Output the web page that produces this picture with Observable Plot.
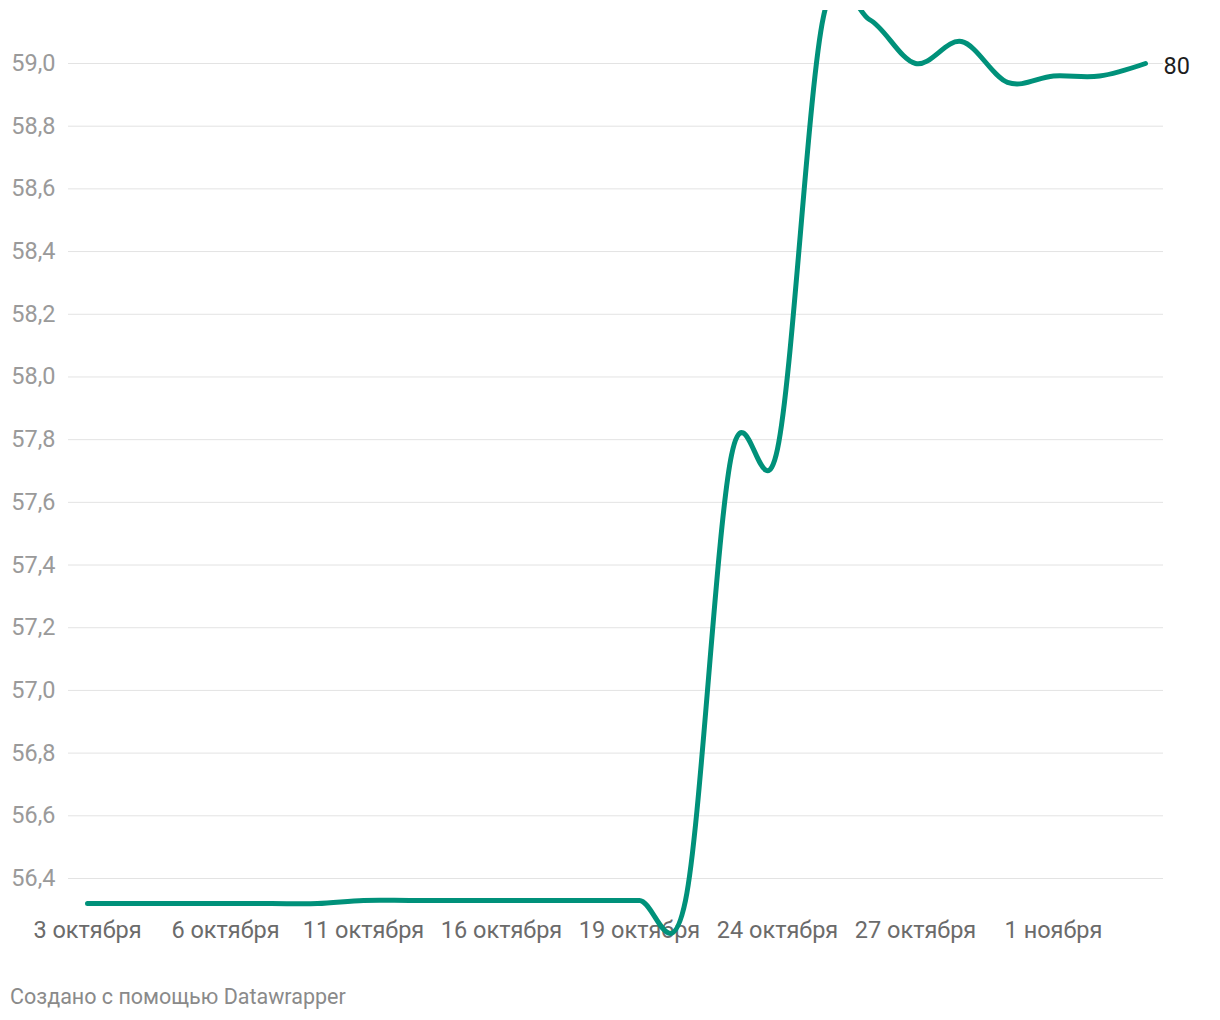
<!DOCTYPE html>
<html>
<head>
<meta charset="utf-8">
<script src="https://cdn.jsdelivr.net/npm/d3@7"></script>
<script src="https://cdn.jsdelivr.net/npm/@observablehq/plot@0.6"></script>
<style>
  html, body { margin: 0; padding: 0; background: #fff; }
  body { font-family: Roboto, "Noto Sans", sans-serif; width: 1220px; }
  #chart svg { display: block; }
  .caption { font-size: 21.5px; color: #8a8a8a; margin: 24px 0 0 10px; line-height: 25px; }
</style>
</head>
<body>
<div id="chart"></div>
<div class="caption">Создано с помощью Datawrapper</div>
<script>
// Categories (trading dates, evenly spaced on the axis)
const dates = [
  "3 октября", "4 октября", "5 октября", "6 октября", "7 октября", "10 октября",
  "11 октября", "12 октября", "13 октября", "16 октября", "17 октября", "18 октября",
  "19 октября", "20 октября", "21 октября", "24 октября", "25 октября", "26 октября",
  "27 октября", "28 октября", "31 октября", "1 ноября", "2 ноября", "3 ноября"
];
// Series values
const values = [
  56.32, 56.32, 56.32, 56.32, 56.32, 56.32,
  56.33, 56.33, 56.33, 56.33, 56.33, 56.33,
  56.33, 56.33, 57.75, 57.77, 59.15, 59.14,
  59.00, 59.07, 58.94, 58.96, 58.96, 59.00
];
// Axis tick labels
const xTickLabels = ["3 октября", "6 октября", "11 октября", "16 октября", "19 октября", "24 октября", "27 октября", "1 ноября"];
const yTicks = [56.4, 56.6, 56.8, 57.0, 57.2, 57.4, 57.6, 57.8, 58.0, 58.2, 58.4, 58.6, 58.8, 59.0];
const yDomain = [56.1862, 59.1691];
const seriesLabel = "80";

const data = dates.map((d, i) => ({date: d, value: values[i]}));
const lineColor = "#00917a";
const fmt = v => v.toFixed(1).replace(".", ",");

const chart = Plot.plot({
  width: 1220,
  height: 960,
  marginTop: 10,
  marginBottom: 15,
  marginLeft: 68,
  marginRight: 57,
  style: {fontFamily: "Roboto, sans-serif", fontSize: "23.5px", background: "#fff"},
  x: {type: "point", domain: dates, padding: 0.3685, axis: null},
  y: {domain: yDomain, axis: null},
  marks: [
    Plot.ruleY(yTicks, {stroke: "#e3e3e3", strokeWidth: 1}),
    Plot.axisY(yTicks, {
      anchor: "left", tickSize: 0, tickPadding: 13, tickFormat: fmt,
      fill: "#9a9a9a", fontSize: 23.5, label: null
    }),
    Plot.text(xTickLabels, {
      x: d => d, text: d => d, frameAnchor: "bottom", dy: -15,
      fill: "#6b6b6b", fontSize: 23.5, textAnchor: "middle", lineAnchor: "middle"
    }),
    Plot.line(data, {
      x: "date", y: "value", curve: "cardinal", stroke: lineColor,
      strokeWidth: 5, strokeLinecap: "round", strokeLinejoin: "round", clip: true
    }),
    Plot.text(data.slice(-1), {
      x: "date", y: "value", text: () => seriesLabel, textAnchor: "start",
      dx: 18, dy: 3, fill: "#1d1d1d", fontSize: 23.5
    })
  ]
});
document.getElementById("chart").appendChild(chart);
</script>
</body>
</html>
